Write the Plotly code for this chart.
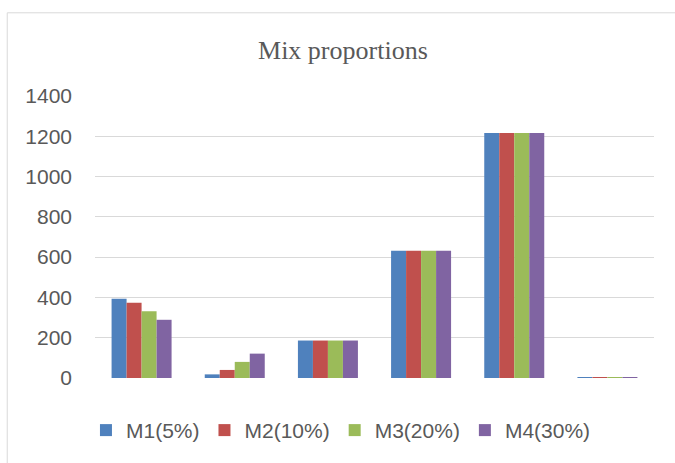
import plotly.graph_objects as go

# Mix constituents (kg/m3), drawn in this order along the x axis
materials = ["Cement", "Replacement", "Water", "Fine aggregate", "Coarse aggregate", "Superplasticizer"]

# One series per mix
m1_values = [393, 18, 186, 632, 1216, 4]
m2_values = [373, 40, 186, 632, 1216, 4]
m3_values = [331, 80, 186, 632, 1216, 4]
m4_values = [289, 121, 186, 632, 1216, 4]

series_names = ["M1(5%)", "M2(10%)", "M3(20%)", "M4(30%)"]
series_values = [m1_values, m2_values, m3_values, m4_values]
series_colors = ["#4F81BD", "#C0504D", "#9BBB59", "#8064A2"]

y_ticks = [0, 200, 400, 600, 800, 1000, 1200, 1400]

fig = go.Figure()
for name, vals, color in zip(series_names, series_values, series_colors):
    fig.add_trace(go.Bar(x=materials, y=vals, name=name, marker_color=color,
                         marker_line_width=0))

label_font = dict(family="Liberation Sans, Arial, sans-serif", size=21, color="#595959")

fig.update_layout(
    width=675, height=463,
    margin=dict(l=95, r=21, t=96, b=82),
    paper_bgcolor="white", plot_bgcolor="white",
    barmode="group", bargap=0.356, bargroupgap=0,
    title=dict(text="Mix proportions", x=0.508, xanchor="center", y=0.892, yanchor="middle",
               font=dict(family="Liberation Serif, Times New Roman, serif", size=26, color="#595959")),
    xaxis=dict(showticklabels=False, showgrid=False, zeroline=False, showline=False, ticks=""),
    yaxis=dict(range=[0, 1400], tickvals=y_ticks, showgrid=True, gridcolor="#D9D9D9", gridwidth=1,
               zeroline=False, showline=False, ticks="", ticklabelstandoff=22, tickfont=label_font),
    legend=dict(orientation="h", x=0.44, xanchor="center", y=-0.186, yanchor="middle",
                font=dict(family="Liberation Sans, Arial, sans-serif", size=21, color="#595959"),
                itemwidth=30, bgcolor="rgba(0,0,0,0)"),
    showlegend=True,
)

# Light chart-area border
fig.add_shape(type="rect", xref="paper", yref="paper",
              x0=-0.157, x1=1.06, y0=-0.35, y1=1.295,
              line=dict(color="#D9D9D9", width=1), fillcolor="rgba(0,0,0,0)", layer="below")

fig.write_html("out.html")
